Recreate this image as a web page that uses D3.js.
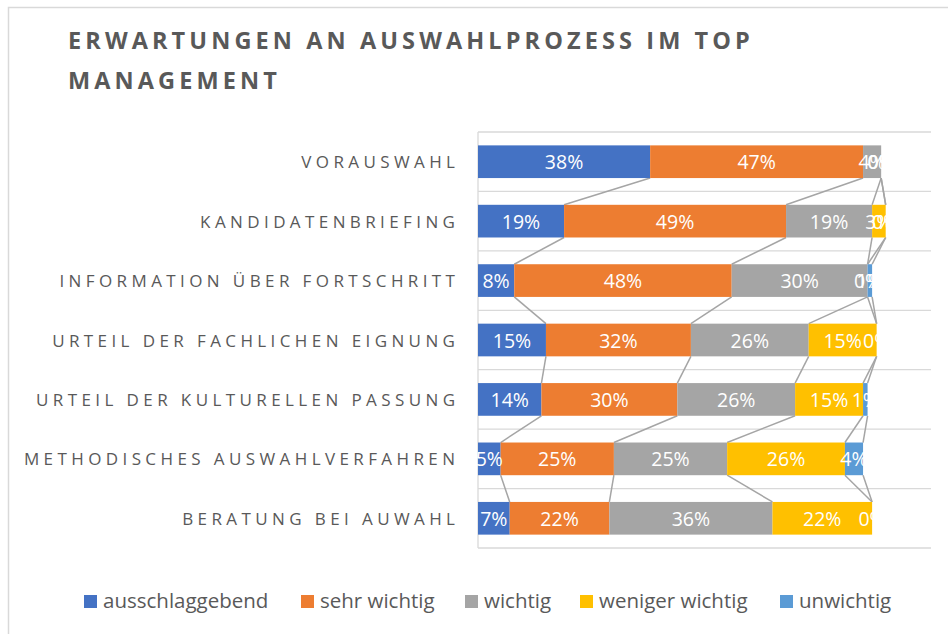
<!DOCTYPE html>
<html>
<head>
<meta charset="utf-8">
<script src="https://cdn.jsdelivr.net/npm/d3@7"></script>
<style>
  html, body { margin: 0; padding: 0; background: #fff; }
  svg { display: block; }
</style>
</head>
<body>
<svg id="chart" width="948" height="634"></svg>
<script>
const titleLines = ["ERWARTUNGEN AN AUSWAHLPROZESS IM TOP", "MANAGEMENT"];
const categories = [
  "VORAUSWAHL",
  "KANDIDATENBRIEFING",
  "INFORMATION ÜBER FORTSCHRITT",
  "URTEIL DER FACHLICHEN EIGNUNG",
  "URTEIL DER KULTURELLEN PASSUNG",
  "METHODISCHES AUSWAHLVERFAHREN",
  "BERATUNG BEI AUWAHL"
];
const seriesNames = ["ausschlaggebend", "sehr wichtig", "wichtig", "weniger wichtig", "unwichtig"];
const ausschlaggebend = [38, 19, 8, 15, 14, 5, 7];
const sehrWichtig     = [47, 49, 48, 32, 30, 25, 22];
const wichtig         = [4, 19, 30, 26, 26, 25, 36];
const wenigerWichtig  = [0, 3, 0, 15, 15, 26, 22];
const unwichtig       = [0, 0, 1, 0, 1, 4, 0];
const seriesValues = [ausschlaggebend, sehrWichtig, wichtig, wenigerWichtig, unwichtig];
const seriesColors = ["#4472C4", "#ED7D31", "#A5A5A5", "#FFC000", "#5B9BD5"];

const svg = d3.select("#chart");
const W = 948, H = 634;
const textColor = "#595959";
const gridColor = "#D9D9D9";

// chart border
svg.append("rect")
  .attr("x", 8.5).attr("y", 7.5)
  .attr("width", W + 20).attr("height", H + 20)
  .attr("fill", "#fff").attr("stroke", gridColor).attr("stroke-width", 1.5);

// title
svg.append("g").selectAll("text").data(titleLines).join("text")
  .attr("x", 68).attr("y", (d, i) => 49 + i * 40)
  .attr("font-family", "'Open Sans', sans-serif")
  .attr("font-weight", 700)
  .attr("font-size", 23.5)
  .attr("letter-spacing", 4.1)
  .attr("fill", textColor)
  .text(d => d);

// scales
const plotLeft = 478, plotRight = 931, plotTop = 132, plotBottom = 548;
const x = d3.scaleLinear().domain([0, 100]).range([plotLeft, plotRight]);
const y = d3.scaleBand().domain(categories).range([plotTop, plotBottom])
  .paddingInner(0.45).paddingOuter(0.225);
const bw = y.bandwidth();
const step = y.step();

// stacked data
const rows = categories.map((c, i) => {
  const r = { cat: c };
  seriesNames.forEach((s, k) => r[s] = seriesValues[k][i]);
  return r;
});
const stacked = d3.stack().keys(seriesNames)(rows);

// gridlines at category boundaries
const bounds = d3.range(categories.length + 1).map(i => plotTop + i * step);
svg.append("g").selectAll("line").data(bounds).join("line")
  .attr("x1", plotLeft).attr("x2", plotRight)
  .attr("y1", d => d).attr("y2", d => d)
  .attr("stroke", gridColor).attr("stroke-width", 1.3);

// vertical axis line
svg.append("line")
  .attr("x1", plotLeft).attr("x2", plotLeft)
  .attr("y1", plotTop).attr("y2", plotBottom)
  .attr("stroke", gridColor).attr("stroke-width", 1.3);

// category labels
const ls = 4.4;
svg.append("g").selectAll("text").data(categories).join("text")
  .attr("x", 455 + ls)
  .attr("y", d => y(d) + bw / 2 + 6.5)
  .attr("text-anchor", "end")
  .attr("font-family", "'Open Sans', sans-serif")
  .attr("font-size", 17)
  .attr("letter-spacing", ls)
  .attr("fill", textColor)
  .text(d => d);

// series lines
const seriesLines = [];
stacked.forEach(layer => {
  for (let i = 0; i < categories.length - 1; i++) {
    seriesLines.push({
      x1: x(layer[i][1]), y1: y(categories[i]) + bw,
      x2: x(layer[i + 1][1]), y2: y(categories[i + 1])
    });
  }
});
svg.append("g").selectAll("line").data(seriesLines).join("line")
  .attr("x1", d => d.x1).attr("y1", d => d.y1)
  .attr("x2", d => d.x2).attr("y2", d => d.y2)
  .attr("stroke", "#A5A5A5").attr("stroke-width", 1.5);

// bars
const layers = svg.append("g").selectAll("g").data(stacked).join("g")
  .attr("fill", (d, i) => seriesColors[i]);
layers.selectAll("rect").data(d => d).join("rect")
  .attr("x", d => x(d[0]))
  .attr("y", d => y(d.data.cat))
  .attr("width", d => x(d[1]) - x(d[0]))
  .attr("height", bw);

// data labels
const labelG = svg.append("g");
stacked.forEach(layer => {
  labelG.append("g").selectAll("text").data(layer).join("text")
    .attr("x", d => (x(d[0]) + x(d[1])) / 2)
    .attr("y", d => y(d.data.cat) + bw / 2 + 7.5)
    .attr("text-anchor", "middle")
    .attr("font-family", "'Open Sans', sans-serif")
    .attr("font-size", 19.5)
    .attr("fill", "#fff")
    .text(d => (d[1] - d[0]) + "%");
});

// legend
const legendX = [84, 301, 465, 580, 780];
const legend = svg.append("g").selectAll("g").data(seriesNames).join("g")
  .attr("transform", (d, i) => `translate(${legendX[i]},0)`);
legend.append("rect")
  .attr("x", 0).attr("y", 595)
  .attr("width", 13).attr("height", 13)
  .attr("fill", (d, i) => seriesColors[i]);
legend.append("text")
  .attr("x", 19).attr("y", 608)
  .attr("font-family", "'Open Sans', sans-serif")
  .attr("font-size", 20.5)
  .attr("fill", textColor)
  .text(d => d);
</script>
</body>
</html>
